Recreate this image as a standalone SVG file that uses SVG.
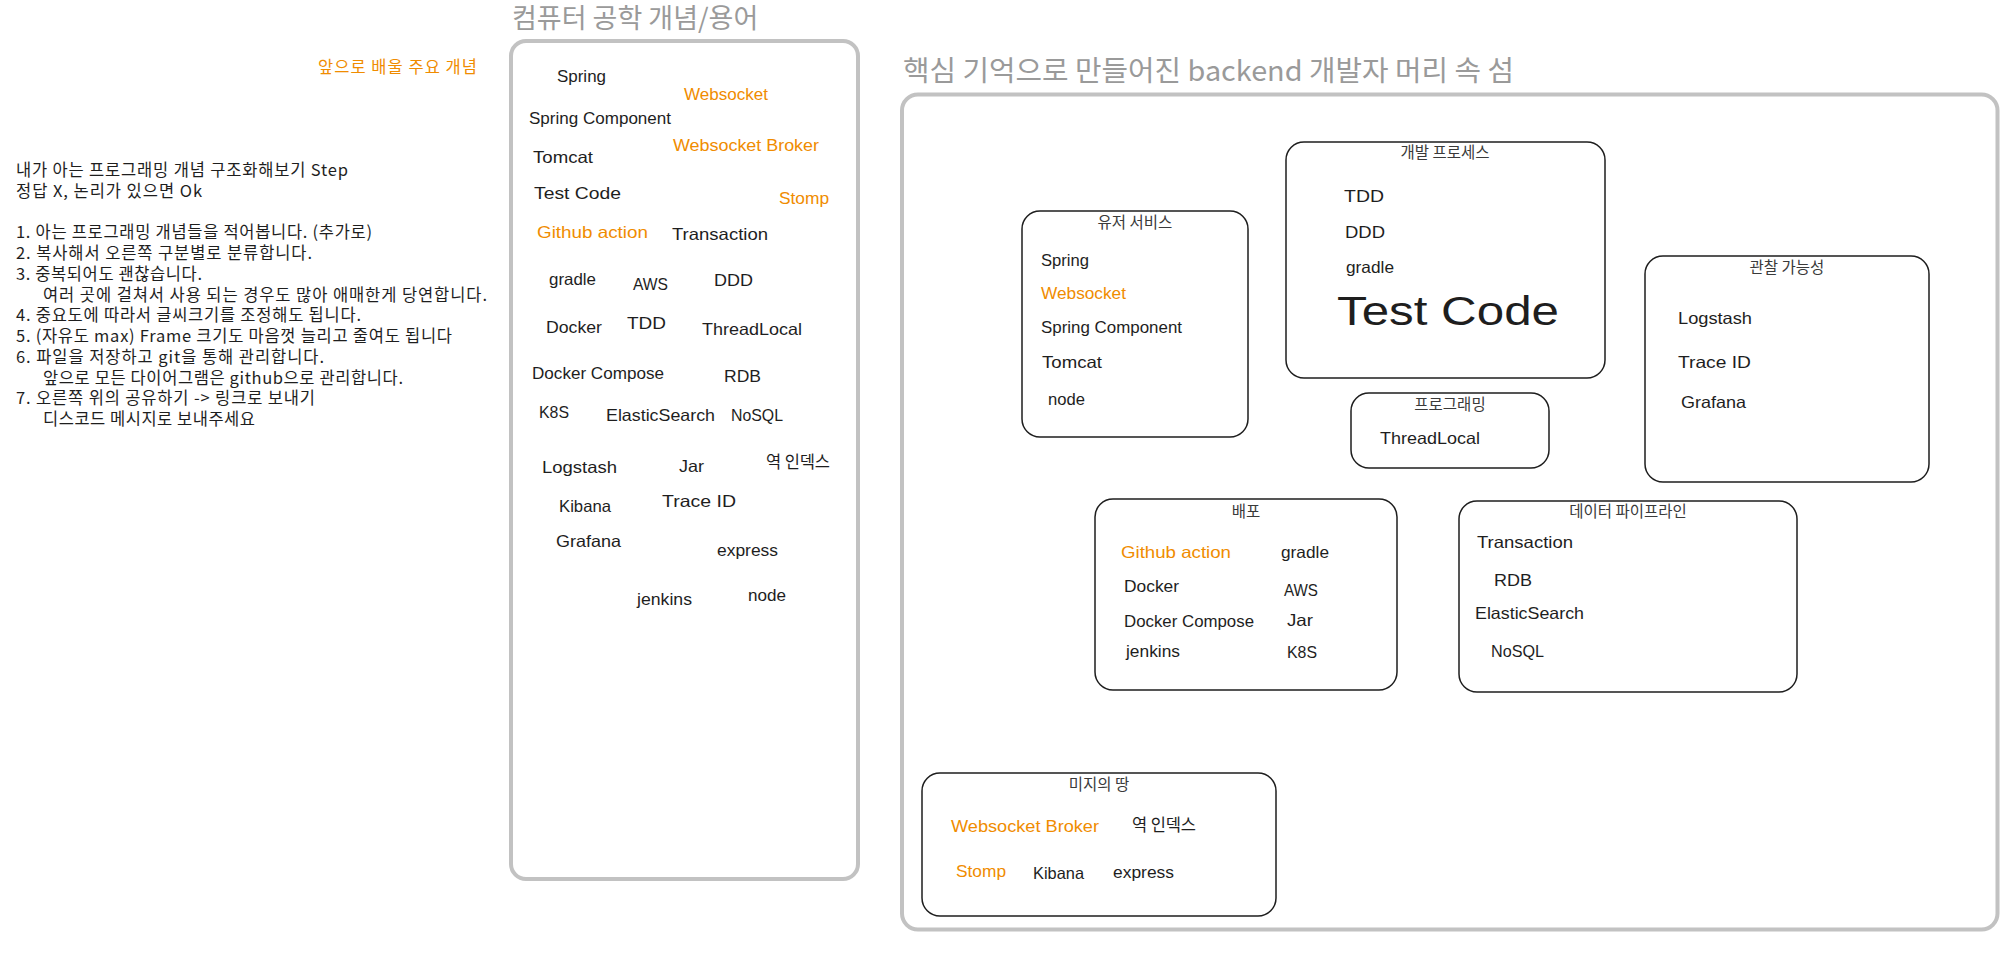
<svg xmlns="http://www.w3.org/2000/svg" width="2014" height="954" viewBox="0 0 2014 954">
<defs>
<style>
.lbl{font-family:"Liberation Sans","Noto Sans CJK KR",sans-serif;font-size:16.5px;fill:#1e1e1e}
.kr{font-family:"Noto Sans CJK KR",sans-serif;font-size:16.5px;fill:#1e1e1e}
.btitle{font-family:"Noto Sans CJK KR",sans-serif;font-size:15.5px;fill:#3a3a3a;text-anchor:middle}
.ftitle{font-family:"Noto Sans CJK KR",sans-serif;fill:#9a9a9a}
.frame{fill:none;stroke:#c2c2c2;stroke-width:4}
.box{fill:none;stroke:#1e1e1e;stroke-width:1.5}
.note{font-family:"Noto Sans CJK KR",sans-serif;font-size:16.5px;fill:#1e1e1e}
.big{font-size:41px}
.org{fill:#f08c00}
</style>
</defs>
<rect x="0" y="0" width="2014" height="954" fill="#ffffff"/>

<g id="instructions">
<text class="note org" x="318" y="73" textLength="159">앞으로 배울 주요 개념</text>
<text class="note" x="16" y="176" textLength="332">내가 아는 프로그래밍 개념 구조화해보기 Step</text>
<text class="note" x="16" y="196.75" textLength="186">정답 X, 논리가 있으면 Ok</text>
<text class="note" x="16" y="238.25" textLength="356">1. 아는 프로그래밍 개념들을 적어봅니다. (추가로)</text>
<text class="note" x="16" y="259" textLength="296">2. 복사해서 오른쪽 구분별로 분류합니다.</text>
<text class="note" x="16" y="279.75" textLength="186">3. 중복되어도 괜찮습니다.</text>
<text class="note" x="43" y="300.5" textLength="444">여러 곳에 걸쳐서 사용 되는 경우도 많아 애매한게 당연합니다.</text>
<text class="note" x="16" y="321.25" textLength="345">4. 중요도에 따라서 글씨크기를 조정해도 됩니다.</text>
<text class="note" x="16" y="342" textLength="436">5. (자유도 max) Frame 크기도 마음껏 늘리고 줄여도 됩니다</text>
<text class="note" x="16" y="362.75" textLength="308">6. 파일을 저장하고 git을 통해 관리합니다.</text>
<text class="note" x="43" y="383.5" textLength="360">앞으로 모든 다이어그램은 github으로 관리합니다.</text>
<text class="note" x="16" y="404.25" textLength="299">7. 오른쪽 위의 공유하기 -&gt; 링크로 보내기</text>
<text class="note" x="43" y="425" textLength="212">디스코드 메시지로 보내주세요</text>
</g>

<g id="frame-concepts">
<text class="ftitle" x="512" y="28" font-size="27">컴퓨터 공학 개념/용어</text>
<rect class="frame" x="511" y="41" width="347" height="838" rx="15"/>
<text class="lbl" x="557" y="82" textLength="49" lengthAdjust="spacingAndGlyphs">Spring</text>
<text class="lbl org" x="684" y="100" textLength="84" lengthAdjust="spacingAndGlyphs">Websocket</text>
<text class="lbl" x="529" y="124" textLength="142" lengthAdjust="spacingAndGlyphs">Spring Component</text>
<text class="lbl org" x="673" y="151" textLength="146" lengthAdjust="spacingAndGlyphs">Websocket Broker</text>
<text class="lbl" x="533" y="163" textLength="60" lengthAdjust="spacingAndGlyphs">Tomcat</text>
<text class="lbl" x="534" y="199" textLength="87" lengthAdjust="spacingAndGlyphs">Test Code</text>
<text class="lbl org" x="779" y="204" textLength="50" lengthAdjust="spacingAndGlyphs">Stomp</text>
<text class="lbl org" x="537" y="238" textLength="111" lengthAdjust="spacingAndGlyphs">Github action</text>
<text class="lbl" x="672" y="240" textLength="96" lengthAdjust="spacingAndGlyphs">Transaction</text>
<text class="lbl" x="549" y="285" textLength="47" lengthAdjust="spacingAndGlyphs">gradle</text>
<text class="lbl" x="633" y="290" textLength="35" lengthAdjust="spacingAndGlyphs">AWS</text>
<text class="lbl" x="714" y="286" textLength="39" lengthAdjust="spacingAndGlyphs">DDD</text>
<text class="lbl" x="546" y="333" textLength="56" lengthAdjust="spacingAndGlyphs">Docker</text>
<text class="lbl" x="627" y="329" textLength="39" lengthAdjust="spacingAndGlyphs">TDD</text>
<text class="lbl" x="702" y="335" textLength="100" lengthAdjust="spacingAndGlyphs">ThreadLocal</text>
<text class="lbl" x="532" y="379" textLength="132" lengthAdjust="spacingAndGlyphs">Docker Compose</text>
<text class="lbl" x="724" y="382" textLength="37" lengthAdjust="spacingAndGlyphs">RDB</text>
<text class="lbl" x="539" y="418" textLength="30" lengthAdjust="spacingAndGlyphs">K8S</text>
<text class="lbl" x="606" y="421" textLength="109" lengthAdjust="spacingAndGlyphs">ElasticSearch</text>
<text class="lbl" x="731" y="421" textLength="52" lengthAdjust="spacingAndGlyphs">NoSQL</text>
<text class="lbl" x="542" y="473" textLength="75" lengthAdjust="spacingAndGlyphs">Logstash</text>
<text class="lbl" x="679" y="472" textLength="25" lengthAdjust="spacingAndGlyphs">Jar</text>
<text class="kr" x="766" y="468" textLength="64">역 인덱스</text>
<text class="lbl" x="559" y="512" textLength="52" lengthAdjust="spacingAndGlyphs">Kibana</text>
<text class="lbl" x="662" y="507" textLength="74" lengthAdjust="spacingAndGlyphs">Trace ID</text>
<text class="lbl" x="556" y="547" textLength="65" lengthAdjust="spacingAndGlyphs">Grafana</text>
<text class="lbl" x="717" y="556" textLength="61" lengthAdjust="spacingAndGlyphs">express</text>
<text class="lbl" x="637" y="605" textLength="55" lengthAdjust="spacingAndGlyphs">jenkins</text>
<text class="lbl" x="748" y="601" textLength="38" lengthAdjust="spacingAndGlyphs">node</text>
</g>

<g id="frame-island">
<text class="ftitle" x="903" y="81" font-size="28" textLength="611" lengthAdjust="spacingAndGlyphs">핵심 기억으로 만들어진 backend 개발자 머리 속 섬</text>
<rect class="frame" x="902" y="94.5" width="1095.5" height="835" rx="16"/>
</g>

<g id="node-user-service">
<rect class="box" x="1022" y="211" width="226" height="226" rx="18"/>
<text class="btitle" x="1135" y="228">유저 서비스</text>
<text class="lbl" x="1041" y="266" textLength="48" lengthAdjust="spacingAndGlyphs">Spring</text>
<text class="lbl org" x="1041" y="299" textLength="85" lengthAdjust="spacingAndGlyphs">Websocket</text>
<text class="lbl" x="1041" y="333" textLength="141" lengthAdjust="spacingAndGlyphs">Spring Component</text>
<text class="lbl" x="1042" y="368" textLength="60" lengthAdjust="spacingAndGlyphs">Tomcat</text>
<text class="lbl" x="1048" y="405" textLength="37" lengthAdjust="spacingAndGlyphs">node</text>
</g>

<g id="node-dev-process">
<rect class="box" x="1286" y="142" width="319" height="236" rx="18"/>
<text class="btitle" x="1445" y="158">개발 프로세스</text>
<text class="lbl" x="1344" y="202" textLength="40" lengthAdjust="spacingAndGlyphs">TDD</text>
<text class="lbl" x="1345" y="238" textLength="40" lengthAdjust="spacingAndGlyphs">DDD</text>
<text class="lbl" x="1346" y="273" textLength="48" lengthAdjust="spacingAndGlyphs">gradle</text>
<text class="lbl big" x="1337" y="325" textLength="222" lengthAdjust="spacingAndGlyphs">Test Code</text>
</g>

<g id="node-programming">
<rect class="box" x="1351" y="393" width="198" height="75" rx="18"/>
<text class="btitle" x="1450" y="410">프로그래밍</text>
<text class="lbl" x="1380" y="444" textLength="100" lengthAdjust="spacingAndGlyphs">ThreadLocal</text>
</g>

<g id="node-observability">
<rect class="box" x="1645" y="256" width="284" height="226" rx="18"/>
<text class="btitle" x="1787" y="273">관찰 가능성</text>
<text class="lbl" x="1678" y="324" textLength="74" lengthAdjust="spacingAndGlyphs">Logstash</text>
<text class="lbl" x="1678" y="368" textLength="73" lengthAdjust="spacingAndGlyphs">Trace ID</text>
<text class="lbl" x="1681" y="408" textLength="65" lengthAdjust="spacingAndGlyphs">Grafana</text>
</g>

<g id="node-deploy">
<rect class="box" x="1095" y="499" width="302" height="191" rx="18"/>
<text class="btitle" x="1246" y="517">배포</text>
<text class="lbl org" x="1121" y="558" textLength="110" lengthAdjust="spacingAndGlyphs">Github action</text>
<text class="lbl" x="1281" y="558" textLength="48" lengthAdjust="spacingAndGlyphs">gradle</text>
<text class="lbl" x="1124" y="592" textLength="55" lengthAdjust="spacingAndGlyphs">Docker</text>
<text class="lbl" x="1284" y="596" textLength="34" lengthAdjust="spacingAndGlyphs">AWS</text>
<text class="lbl" x="1124" y="627" textLength="130" lengthAdjust="spacingAndGlyphs">Docker Compose</text>
<text class="lbl" x="1287" y="626" textLength="26" lengthAdjust="spacingAndGlyphs">Jar</text>
<text class="lbl" x="1126" y="657" textLength="54" lengthAdjust="spacingAndGlyphs">jenkins</text>
<text class="lbl" x="1287" y="658" textLength="30" lengthAdjust="spacingAndGlyphs">K8S</text>
</g>

<g id="node-data-pipeline">
<rect class="box" x="1459" y="501" width="338" height="191" rx="18"/>
<text class="btitle" x="1628" y="517">데이터 파이프라인</text>
<text class="lbl" x="1477" y="548" textLength="96" lengthAdjust="spacingAndGlyphs">Transaction</text>
<text class="lbl" x="1494" y="586" textLength="38" lengthAdjust="spacingAndGlyphs">RDB</text>
<text class="lbl" x="1475" y="619" textLength="109" lengthAdjust="spacingAndGlyphs">ElasticSearch</text>
<text class="lbl" x="1491" y="657" textLength="53" lengthAdjust="spacingAndGlyphs">NoSQL</text>
</g>

<g id="node-unknown-land">
<rect class="box" x="922" y="773" width="354" height="143" rx="18"/>
<text class="btitle" x="1099" y="790">미지의 땅</text>
<text class="lbl org" x="951" y="832" textLength="148" lengthAdjust="spacingAndGlyphs">Websocket Broker</text>
<text class="kr" x="1132" y="831" textLength="64">역 인덱스</text>
<text class="lbl org" x="956" y="877" textLength="50" lengthAdjust="spacingAndGlyphs">Stomp</text>
<text class="lbl" x="1033" y="879" textLength="51" lengthAdjust="spacingAndGlyphs">Kibana</text>
<text class="lbl" x="1113" y="878" textLength="61" lengthAdjust="spacingAndGlyphs">express</text>
</g>

<g id="connectors"></g>
</svg>
